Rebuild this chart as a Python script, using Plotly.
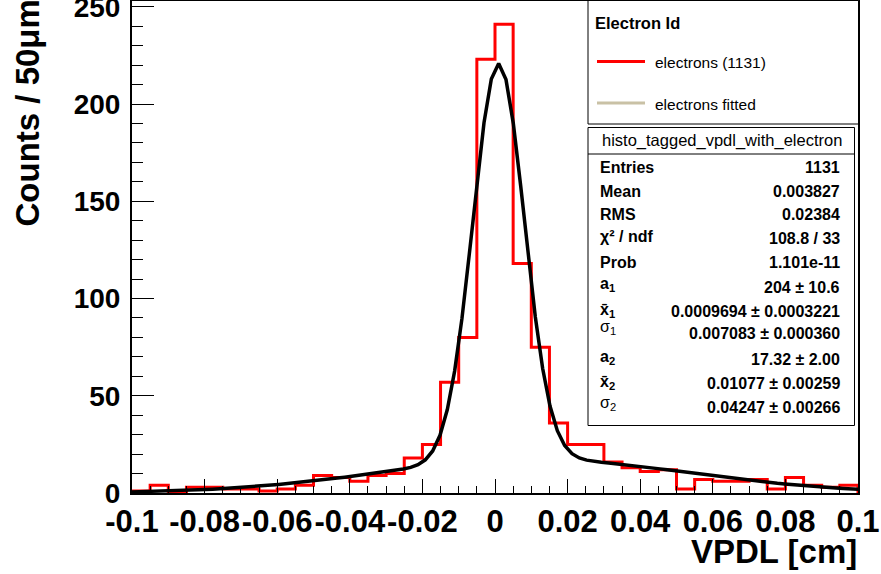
import numpy as np
import plotly.graph_objects as go

# ---------------- data ----------------
bin_lo = -0.1
bin_width = 0.005
counts = [1, 4, 0, 3, 3, 2, 2, 1, 2, 4,
          9, 8, 6, 9, 10, 18, 25, 57, 80, 223,
          241, 118, 75, 36, 25, 25, 16, 13, 11, 12,
          2, 7, 6, 6, 7, 2, 8, 4, 3, 4]

# fit parameters (double gaussian) from the stats box
a1, mean1, sigma1 = 204.0, 0.0009694, 0.007083
a2, mean2, sigma2 = 17.32, 0.01077, 0.04247

x_tickvals = [-0.1, -0.08, -0.06, -0.04, -0.02, 0, 0.02, 0.04, 0.06, 0.08, 0.1]
x_ticktext = ["-0.1", "-0.08", "-0.06", "-0.04", "-0.02", "0", "0.02", "0.04", "0.06", "0.08", "0.1"]
y_tickvals = [0, 50, 100, 150, 200, 250]

stats_labels = ["Entries", "Mean", "RMS", "χ² / ndf", "Prob", "a<sub>1</sub>",
                "x̄<sub>1</sub>", "σ<sub>1</sub>", "a<sub>2</sub>", "x̄<sub>2</sub>", "σ<sub>2</sub>"]
stats_values = ["1131", "0.003827", "0.02384", "108.8 / 33", "1.101e-11", "204 ± 10.6",
                "0.0009694 ± 0.0003221", "0.007083 ± 0.000360", "17.32 ± 2.00",
                "0.01077 ± 0.00259", "0.04247 ± 0.00266"]
legend_title = "Electron Id"
legend_names = ["electrons (1131)", "electrons fitted"]

# ---------------- geometry helpers ----------------
W, H = 881, 574
L, R, T, B = 132, 858, 1, 493


def px(x):
    return (x - L) / (R - L)


def py(y):
    return (B - y) / (B - T)


edges = [bin_lo + bin_width * i for i in range(len(counts) + 1)]
hx = [edges[0]] + edges[:-1] + [edges[-1], edges[-1]]
hy = [0] + counts + [counts[-1], 0]

fx = np.linspace(-0.1, 0.1, 100)
fy = a1 * np.exp(-0.5 * ((fx - mean1) / sigma1) ** 2) + a2 * np.exp(-0.5 * ((fx - mean2) / sigma2) ** 2)

fig = go.Figure()
fig.add_trace(go.Scatter(x=hx, y=hy, mode="lines", line=dict(color="#ff0000", width=3, shape="hv"),
                         showlegend=False, hoverinfo="skip"))
fig.add_trace(go.Scatter(x=fx, y=fy, mode="lines", line=dict(color="black", width=3.5),
                         showlegend=False, hoverinfo="skip"))

FONT = "Liberation Sans, Arial, sans-serif"

fig.update_layout(
    width=W, height=H,
    margin=dict(l=L, r=W - R, t=T, b=H - B, autoexpand=False),
    paper_bgcolor="white", plot_bgcolor="white",
    showlegend=False,
    xaxis=dict(range=[-0.1, 0.1], showgrid=False, zeroline=False, automargin=False,
               showline=True, linecolor="black", linewidth=2, mirror=True,
               ticks="inside", ticklen=14, tickwidth=1, tickcolor="black",
               tickvals=x_tickvals, ticktext=x_ticktext, tickangle=0,
               ticklabeloverflow="allow",
               minor=dict(ticks="inside", ticklen=7, dtick=0.005, tickcolor="black", tickwidth=1, showgrid=False),
               tickfont=dict(family=FONT, size=31, color="black", weight="bold"),
               ticklabelstandoff=0),
    yaxis=dict(range=[0, 253], showgrid=False, zeroline=False, automargin=False,
               showline=True, linecolor="black", linewidth=2, mirror=True,
               ticks="inside", ticklen=22, tickwidth=1, tickcolor="black",
               tickvals=y_tickvals, tickangle=0,
               ticklabeloverflow="allow",
               minor=dict(ticks="inside", ticklen=11, dtick=10, tickcolor="black", tickwidth=1, showgrid=False),
               tickfont=dict(family=FONT, size=28, color="black", weight="bold"),
               ticklabelstandoff=4),
)

shapes = []
ann = []

# axis titles
ann.append(dict(text="VPDL [cm]", xref="paper", yref="paper", x=px(859), y=py(551),
                xanchor="right", yanchor="middle", showarrow=False,
                font=dict(family=FONT, size=33, color="black", weight="bold")))
ann.append(dict(text="Counts / 50μm", xref="paper", yref="paper", x=px(27), y=py(229),
                xanchor="center", yanchor="bottom", textangle=-90, showarrow=False,
                font=dict(family=FONT, size=33, color="black", weight="bold")))

# legend box
shapes.append(dict(type="rect", xref="paper", yref="paper", x0=px(588), x1=px(858.5), y0=py(124), y1=py(0.5),
                   line=dict(color="black", width=1), fillcolor="white", layer="above"))
ann.append(dict(text=legend_title, xref="paper", yref="paper", x=px(593), y=py(23),
                xanchor="left", yanchor="middle", showarrow=False,
                font=dict(family=FONT, size=16.5, color="black", weight="bold")))
leg_colors = ["#ff0000", "#c9c1a5"]
leg_y = [61.5, 103]
for name, col, yy in zip(legend_names, leg_colors, leg_y):
    shapes.append(dict(type="line", xref="paper", yref="paper", x0=px(597), x1=px(645), y0=py(yy), y1=py(yy),
                       line=dict(color=col, width=3), layer="above"))
    ann.append(dict(text=name, xref="paper", yref="paper", x=px(653), y=py(yy + 1),
                    xanchor="left", yanchor="middle", showarrow=False,
                    font=dict(family=FONT, size=15.5, color="black")))

# stats box
shapes.append(dict(type="rect", xref="paper", yref="paper", x0=px(588), x1=px(854.5), y0=py(425.5), y1=py(127.5),
                   line=dict(color="black", width=1), fillcolor="white", layer="above"))
shapes.append(dict(type="line", xref="paper", yref="paper", x0=px(588), x1=px(854.5), y0=py(154), y1=py(154),
                   line=dict(color="black", width=1), layer="above"))
ann.append(dict(text="histo_tagged_vpdl_with_electron", xref="paper", yref="paper", x=px(721.5), y=py(140.5),
                xanchor="center", yanchor="middle", showarrow=False,
                font=dict(family=FONT, size=16.5, color="black")))
row_y = [167.5, 191, 214.5, 238.5, 262.5, 287, 311, 334, 359, 383.5, 407.5]
lab_y = [167.5, 191, 214.5, 237, 262.5, 285, 310, 328, 357, 382, 403]
for lab, val, yv, yl in zip(stats_labels, stats_values, row_y, lab_y):
    greek = lab.startswith("σ")
    ann.append(dict(text=lab, xref="paper", yref="paper", x=px(598), y=py(yl),
                    xanchor="left", yanchor="middle", showarrow=False,
                    font=dict(family=FONT, size=16, color="black", weight="normal" if greek else "bold")))
    ann.append(dict(text=val, xref="paper", yref="paper", x=px(841.5), y=py(yv),
                    xanchor="right", yanchor="middle", showarrow=False,
                    font=dict(family=FONT, size=16, color="black", weight="bold")))

fig.update_layout(shapes=shapes, annotations=ann)
fig.write_html("out.html")
